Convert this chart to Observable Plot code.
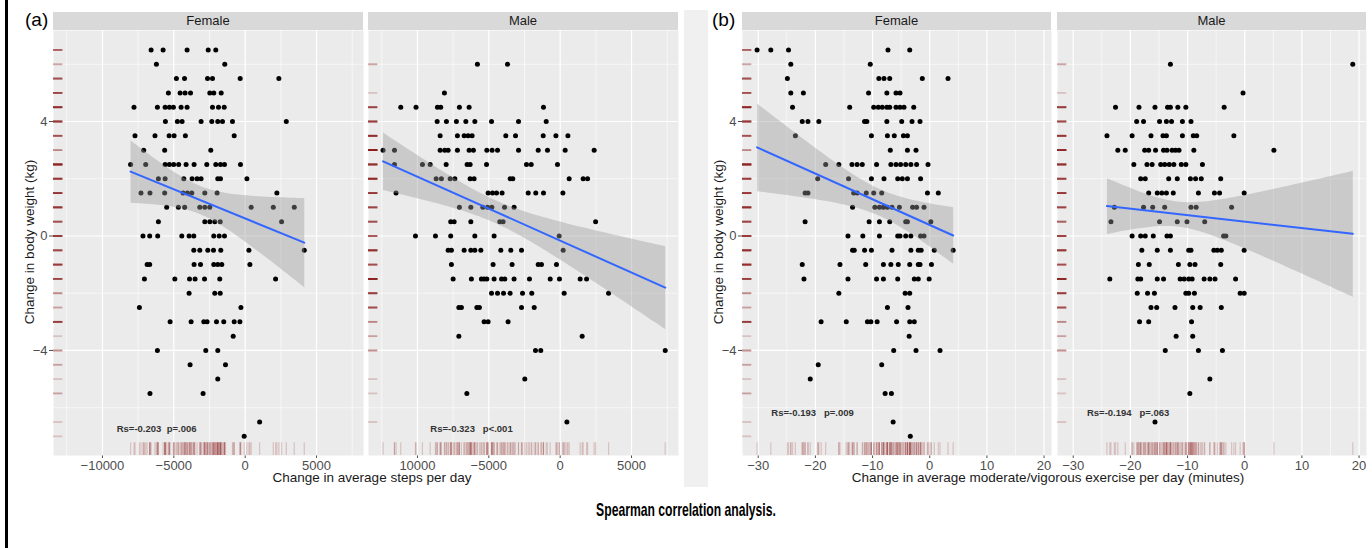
<!DOCTYPE html>
<html>
<head>
<meta charset="utf-8">
<script src="https://cdn.jsdelivr.net/npm/d3@7"></script>
<script src="https://cdn.jsdelivr.net/npm/@observablehq/plot@0.6"></script>
<style>
  html, body { margin: 0; padding: 0; background: #fff; }
  #fig { position: relative; width: 1372px; height: 548px; overflow: hidden; font-family: "Liberation Sans", Arial, Helvetica, sans-serif; }
  .abs { position: absolute; }
  .strip { background: #d9d9d9; color: #1a1a1a; font-size: 13px; text-align: center; line-height: 18px; }
  .ttl { color: #1a1a1a; font-size: 13.5px; white-space: nowrap; line-height: 16px; }
  .plab { color: #000; font-size: 19px; line-height: 22px; }
</style>
</head>
<body>
<div id="fig"></div>
<script>
// ---------------- DATA ----------------
// Change in body weight levels (kg), one row of x values per level
const weightLevels = [6.5, 6, 5.5, 5, 4.5, 4, 3.5, 3, 2.5, 2, 1.5, 1, 0.5, 0,
  -0.5, -1, -1.5, -2, -2.5, -3, -3.5, -4, -4.5, -5, -5.5, -6, -6.5, -7];

// (a) change in average steps per day — Female
const stepsFemale = [
  [-6590, -5750, -4070, -2590, -2060],
  [-6220, -1430],
  [-4820, -4250, -2640, -2290, -350, 2360],
  [-5380, -4560, -4210, -3830, -2480, -2200, -1680],
  [-7790, -6150, -5610, -5310, -5030, -4490, -4070, -2290, -1870, -1470],
  [-5590, -4750, -4420, -3090, -2340, -1920, -1590, -890, 2880],
  [-7720, -6320, -5330, -4980, -4190, -770],
  [-7110, -5640, -2410],
  [-8030, -6970, -5610, -5310, -5010, -4660, -4140, -3580, -2690, -2060, -1730, -1450, -330],
  [-6080, -5610, -4300, -3720, -3370, -3090, -1920, -1730, 120],
  [-7300, -6670, -5640, -4350, -4050, -3740, -2830, -1970, 2220],
  [-5500, -4680, -4240, -3180, -2830, -2480, 420, 1970, 3440],
  [-6080, -2830, -2480, -2130, -1750, 2550],
  [-7160, -6690, -6130, -4440, -3930, -3600, -2200, -1820, -1450],
  [-3600, -3180, -2620, -2220, -1710, 260, 4140],
  [-6870, -6690, -3580, -3130, -2200, -1920, -1640, 330],
  [-7060, -4930, -3900, -3510, -2850, -1780, 2130],
  [-3930, -2130, -1750],
  [-7410, -300],
  [-5260, -3790, -2900, -2670, -2010, -1500, -770, -370],
  [-840],
  [-6150, -2760, -1920],
  [-3860, -1380],
  [-1920],
  [-6670, -2950],
  [],
  [1010],
  [-70]
];

// (a) change in average steps per day — Male
const stepsMale = [
  [],
  [-5800, -3690],
  [],
  [-8110],
  [-11170, -10100, -8600, -8370, -7060, -6380, -1170],
  [-8620, -7970, -7270, -6610, -5980, -4810, -2920, -980],
  [-8410, -7200, -6730, -6450, -6170, -3810, -3130, -1190, -300, 540],
  [-12410, -11610, -8410, -8090, -7850, -7200, -6380, -6080, -5140, -4770, -4390, -2920, -1540, -890, 350, 2380],
  [-11610, -9650, -9110, -7990, -6520, -6310, -5160, -2360, -2030, -190],
  [-8690, -8320, -7710, -7380, -6310, -6030, -3510, -3320, 630, 1610, 1920],
  [-11500, -5050, -4740, -4460, -4070, -2240, -1710, -1170, 190],
  [-7060, -6260, -5420, -5090, -4790, -3900, -3230],
  [-7670, -7430, -6260, -4230, -4000, 2480],
  [-10140, -8740, -7670, -5980, -4630, -70],
  [-7850, -7620, -6730, -6260, -5980, -5560, -4160, -3460, -2710, 210],
  [-7620, -4700, -3370, -1540, -1310, -260],
  [-7500, -6220, -5520, -5330, -5140, -4630, -4110, -3880, -3230, -2150, -700, -50, 1400, 1850],
  [-4810, -4390, -3970, -3510, -2640, -1990, 280, 3390],
  [-7100, -6920, -5840, -5660, -2710, -1820],
  [-5330, -5050, -3650],
  [-7100, 1540],
  [-1730, -1360, 7360],
  [],
  [-2480],
  [-6540],
  [],
  [470],
  []
];

// (b) change in average moderate/vigorous exercise per day (minutes) — Female
const exerciseFemale = [
  [-30.2, -27.8, -24.7, -7.3, -3.5],
  [-24.3, -10.4],
  [-24.9, -8.9, -8.0, -7.0, -1.3, 3.2],
  [-24.3, -22.1, -10.7, -7.5, -5.9, -5.2],
  [-24.0, -14.0, -9.8, -9.0, -8.3, -7.5, -7.0, -5.9, -5.2, -4.5, -2.8],
  [-22.3, -21.3, -19.4, -11.4, -11.0, -7.5, -4.9, -3.1, -1.7],
  [-23.5, -10.2, -7.4, -6.2, -4.6, -3.9],
  [-6.9, -3.9, -2.4],
  [-18.2, -15.9, -13.6, -12.7, -11.8, -9.3, -6.8, -5.9, -5.1, -4.2, -3.3, -2.3, -0.3],
  [-19.6, -14.2, -10.2, -8.0, -5.6, -4.8, -3.9, -1.6],
  [-21.8, -21.3, -13.3, -12.7, -11.1, -9.8, -8.4, -0.4, 1.5],
  [-13.5, -9.6, -8.8, -8.1, -7.4, -6.6, -5.3, -3.0, -2.3, -1.0],
  [-21.8, -10.6, -8.8, -7.0, -4.2, -3.9, 0.2],
  [-14.3, -11.7, -8.8, -5.6, -5.2, -4.2, -3.3, -1.6, -1.0],
  [-13.5, -13.2, -11.4, -10.2, -6.6, -3.3, -2.0, -1.5, 0.8, 4.1],
  [-22.3, -15.7, -11.2, -8.1, -6.8, -5.5, -3.5, -2.0, -1.7, 0.3],
  [-22.0, -14.3, -9.3, -8.1, -5.6, -2.7, -2.0, -0.1],
  [-15.9, -4.3, -3.5],
  [-7.4, -3.8],
  [-19.0, -14.6, -10.9, -10.3, -9.2, -5.8, -3.5, -2.7],
  [-3.6],
  [-6.3, -2.4, 1.8],
  [-19.5, -8.4],
  [-20.9],
  [-7.8, -6.7],
  [],
  [-6.4],
  [-3.4]
];

// (b) change in average moderate/vigorous exercise per day (minutes) — Male
const exerciseMale = [
  [],
  [-13.0, 18.9],
  [],
  [-0.3],
  [-22.6, -18.5, -15.7, -13.5, -13.0, -11.7, -10.3, -3.6],
  [-18.9, -17.7, -14.9, -13.7, -12.8, -10.9, -9.4],
  [-24.1, -19.7, -16.4, -14.3, -13.7, -10.9, -9.0, -8.4, -1.9],
  [-22.2, -20.9, -17.5, -16.8, -15.6, -14.2, -13.6, -12.7, -12.1, -11.5, -8.9, 5.1],
  [-19.4, -17.1, -16.2, -14.7, -14.0, -13.2, -12.4, -11.1, -10.3, -7.4],
  [-18.2, -17.4, -13.3, -11.8, -9.5, -8.6, -7.6, -4.2],
  [-16.8, -15.3, -14.5, -13.7, -12.5, -8.1, -5.3, -4.4, -0.1],
  [-22.8, -17.7, -16.1, -14.0, -9.4, -8.5, -2.3],
  [-23.4, -14.9, -11.8, -10.1, -7.0],
  [-19.7, -18.2, -17.4, -16.0, -13.6, -13.0, -3.7, -3.3],
  [-18.0, -15.3, -13.0, -9.8, -9.4, -5.4, -4.8, -4.1, -0.1],
  [-18.6, -16.7, -11.6, -9.6, -8.7, -4.2],
  [-23.6, -18.7, -18.2, -15.3, -14.2, -11.3, -10.6, -9.8, -9.2, -7.1, -6.1, -5.2, -1.6],
  [-18.8, -17.0, -15.8, -10.3, -9.8, -8.8, -0.8, -0.1],
  [-16.4, -15.4, -12.2, -9.1, -7.8, -4.1],
  [-18.4, -16.8, -9.3],
  [-12.0, -9.1],
  [-13.9, -8.1, -3.9],
  [],
  [-6.1],
  [-9.6],
  [],
  [-15.7],
  []
];

// Facet labels, panel tags, axis ticks and labels
const facetLabels = ["Female", "Male", "Female", "Male"];
const panelTags = ["(a)", "(b)"];
const weightTicks = [-4, 0, 4];
const weightTickLabels = ["−4", "0", "4"];
const weightMinor = [-6, -2, 2, 6];
const stepsTicks = [-10000, -5000, 0, 5000];
const stepsTickLabelsFemale = ["−10000", "−5000", "0", "5000"];
const stepsTickLabelsMale = ["10000", "−5000", "0", "5000"];
const stepsMinor = [-12500, -7500, -2500, 2500, 7500];
const exerciseTicks = [-30, -20, -10, 0, 10, 20];
const exerciseTickLabels = ["−30", "−20", "−10", "0", "10", "20"];
const exerciseMinor = [-25, -15, -5, 5, 15];

// Spearman annotations (text and anchor in data units)
const noteTexts = [
  "Rs=-0.203\u00a0\u00a0p=.006",
  "Rs=-0.323\u00a0\u00a0\u00a0p<.001",
  "Rs=-0.193\u00a0\u00a0\u00a0p=.009",
  "Rs=-0.194\u00a0\u00a0\u00a0p=.063"
];
const noteX = [-9000, -9100, -27.7, -27.6];
const noteY = [-6.73, -6.73, -6.17, -6.17];

const yLabel = "Change in body weight (kg)";
const xLabelSteps = "Change in average steps per day";
const xLabelExercise = "Change in average moderate/vigorous exercise per day (minutes)";
const caption = "Spearman correlation analysis.";

// ---------------- BUILD ----------------
const FONT = '"Liberation Sans", Arial, Helvetica, sans-serif';
const yDomain = [-7.67, 7.18];
const stepsDomain = [-13430, 8290];
const exerciseDomain = [-32.75, 21.3];

function toRows(rows) {
  const out = [];
  rows.forEach((xs, i) => xs.forEach(x => out.push({x, y: weightLevels[i]})));
  return out;
}

const fig = document.getElementById("fig");
function addDiv(cls, css, text) {
  const d = document.createElement("div");
  d.className = "abs " + cls;
  Object.assign(d.style, css);
  if (text != null) d.textContent = text;
  fig.appendChild(d);
  return d;
}

// decorative left rule and middle separator
addDiv("", {left: "5px", top: "0px", width: "3px", height: "548px", background: "#000"});
addDiv("", {left: "684px", top: "10px", width: "24px", height: "477px", background: "#f0f0f0"});

const PANEL_TOP = 30, PANEL_H = 425;
const panels = [
  {left: 53, w: 310, rows: stepsFemale, dom: stepsDomain, ticks: stepsTicks, labels: stepsTickLabelsFemale, minor: stepsMinor, yAxis: true},
  {left: 368, w: 310, rows: stepsMale, dom: stepsDomain, ticks: stepsTicks, labels: stepsTickLabelsMale, minor: stepsMinor, yAxis: false},
  {left: 742, w: 309, rows: exerciseFemale, dom: exerciseDomain, ticks: exerciseTicks, labels: exerciseTickLabels, minor: exerciseMinor, yAxis: true},
  {left: 1057, w: 309, rows: exerciseMale, dom: exerciseDomain, ticks: exerciseTicks, labels: exerciseTickLabels, minor: exerciseMinor, yAxis: false}
];

panels.forEach((p, i) => {
  const data = toRows(p.rows);
  const ml = p.yAxis ? 45 : 12, mr = 12, mb = 28;
  const xr = p.dom[1] - p.dom[0], yr = yDomain[1] - yDomain[0];
  const rugX1 = p.dom[0], rugX2 = p.dom[0] + 0.03 * xr;
  const rugY1 = yDomain[0], rugY2 = yDomain[0] + 0.03 * yr;
  const note = [{x: noteX[i], y: noteY[i], t: noteTexts[i]}];
  const chart = Plot.plot({
    width: ml + p.w + mr,
    height: PANEL_H + mb,
    marginLeft: ml, marginRight: mr, marginTop: 0, marginBottom: mb,
    style: {background: "transparent", fontFamily: FONT, fontSize: "13px", color: "#4d4d4d", overflow: "visible"},
    x: {domain: p.dom, ticks: p.ticks, tickFormat: d => p.labels[p.ticks.indexOf(d)], tickSize: 3, tickPadding: 2, label: null},
    y: {domain: yDomain, ticks: weightTicks, tickFormat: d => weightTickLabels[weightTicks.indexOf(d)], tickSize: 4, tickPadding: 2, label: null, axis: p.yAxis ? "left" : null},
    marks: [
      Plot.frame({fill: "#ebebeb", stroke: "none"}),
      Plot.ruleX(p.minor, {stroke: "#fff", strokeWidth: 0.6}),
      Plot.ruleY(weightMinor, {stroke: "#fff", strokeWidth: 0.6}),
      Plot.ruleX(p.ticks, {stroke: "#fff", strokeWidth: 1.2}),
      Plot.ruleY(weightTicks, {stroke: "#fff", strokeWidth: 1.2}),
      Plot.ruleX(data, {x: "x", y1: () => rugY1, y2: () => rugY2, stroke: "#8b1a1a", strokeOpacity: 0.2, strokeWidth: 1.2}),
      Plot.ruleY(data, {y: "y", x1: () => rugX1, x2: () => rugX2, stroke: "#8b1a1a", strokeOpacity: 0.2, strokeWidth: 1.8}),
      Plot.dot(data, {x: "x", y: "y", r: 2.5, fill: "#000", stroke: "none"}),
      Plot.linearRegressionY(data, {x: "x", y: "y", stroke: "#3366ff", strokeWidth: 2, fill: "#999", fillOpacity: 0.4, ci: 0.95}),
      Plot.text(note, {x: "x", y: "y", text: "t", textAnchor: "start", fontWeight: "bold", fontSize: 9.5, fill: "#333"})
    ]
  });
  chart.style.position = "absolute";
  chart.style.left = (p.left - ml) + "px";
  chart.style.top = PANEL_TOP + "px";
  chart.style.maxWidth = "none";
  fig.appendChild(chart);
  // facet strip
  addDiv("strip", {left: p.left + "px", top: "12px", width: p.w + "px", height: "18px"}, facetLabels[i]);
});

// panel tags
addDiv("plab", {left: "25px", top: "9px"}, panelTags[0]);
addDiv("plab", {left: "712px", top: "9px"}, panelTags[1]);

// y titles (rotated)
[30, 719].forEach(cx => {
  addDiv("ttl", {left: cx + "px", top: "242px", transform: "translate(-50%, -50%) rotate(-90deg)"}, yLabel);
});
// x titles
addDiv("ttl", {left: "372px", top: "470px", transform: "translateX(-50%)"}, xLabelSteps);
addDiv("ttl", {left: "1048px", top: "470px", transform: "translateX(-50%)"}, xLabelExercise);

// caption (condensed bold)
addDiv("", {left: "686px", top: "499px", transform: "translateX(-50%) scaleX(0.64)", fontFamily: '"Liberation Sans", Arial, sans-serif', fontWeight: "bold", fontSize: "19px", lineHeight: "22px", whiteSpace: "nowrap", color: "#000"}, caption);
</script>
</body>
</html>
